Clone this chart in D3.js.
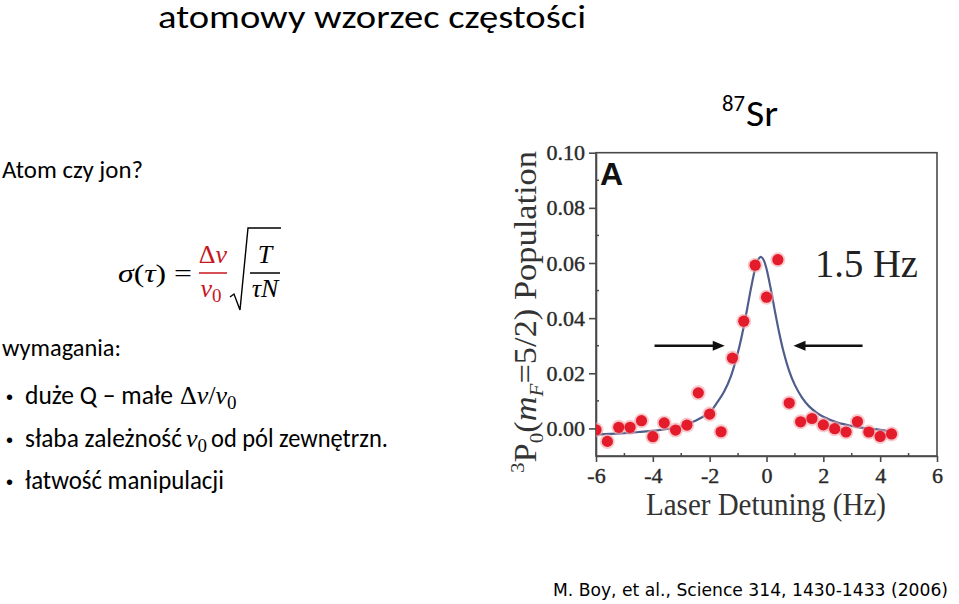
<!DOCTYPE html>
<html><head><meta charset="utf-8">
<script src="https://cdn.jsdelivr.net/npm/d3@7"></script>
<style>body{margin:0;background:#fff;overflow:hidden} svg{display:block}</style>
</head><body><svg id="c" width="959" height="604"></svg>
<script>
// ---- data ----
const detuning   = [-6,-5.6,-5.2,-4.8,-4.4,-4.0,-3.6,-3.2,-2.8,-2.4,-2.0,-1.6,-1.2,-0.8,-0.4,0,0.4,0.8,1.2,1.6,2.0,2.4,2.8,3.2,3.6,4.0,4.4];
const population = [-0.0005,-0.0047,0.0004,0.0004,0.0028,-0.0030,0.0020,-0.0006,0.0012,0.0129,0.0052,-0.0012,0.0255,0.0389,0.0592,0.0476,0.0612,0.0092,0.0024,0.0036,0.0013,-0.0001,-0.0013,0.0025,-0.0013,-0.0029,-0.0020];
const fitX = [-6,-5.5,-5,-4.5,-4,-3.5,-3,-2.5,-2,-1.75,-1.5,-1.25,-1,-0.85,-0.7,-0.55,-0.4,-0.3,-0.2,-0.1,0,0.15,0.3,0.45,0.6,0.8,1.0,1.25,1.5,1.75,2,2.5,3,3.5,4,4.4];
const fitY = [-0.0022,-0.0020,-0.0017,-0.0013,-0.0009,-0.0002,0.0008,0.0028,0.0058,0.0092,0.0132,0.0190,0.0278,0.0345,0.0423,0.0506,0.0579,0.0611,0.0622,0.0611,0.0579,0.0506,0.0423,0.0345,0.0278,0.0208,0.0157,0.0112,0.0080,0.0058,0.0042,0.0021,0.0009,0.0000,-0.0005,-0.0012];
const xTicks = [-6,-4,-2,0,2,4,6];
const xMinor = [-5,-3,-1,1,3,5];
const yTicks = [0,0.02,0.04,0.06,0.08,0.10];
const yMinor = [0.01,0.03,0.05,0.07,0.09];
const arrowFrom = [-3.94, 3.38];
const arrowTo   = [-1.47, 0.95];
const arrowY    = [0.030, 0.030];
const widthLabel = "1.5 Hz";
const panelLabel = "A";
const xTitle = "Laser Detuning (Hz)";

const svg = d3.select("#c");
const serif = "'Liberation Serif','Times New Roman',serif";
const sans = "Carlito,Calibri,Lato,sans-serif";
function fit(sel, w){ return sel.attr("textLength", w).attr("lengthAdjust","spacingAndGlyphs"); }

// ---- slide texts ----
fit(svg.append("text").attr("x",158).attr("y",28).attr("font-family",sans).attr("font-size",33).text("atomowy wzorzec częstości"),428);
const sr = svg.append("g").attr("font-family",sans).attr("fill","#000");
fit(sr.append("text").attr("x",722).attr("y",111).attr("font-size",23).text("87"),23);
fit(sr.append("text").attr("x",746).attr("y",126).attr("font-size",37).text("Sr"),32);
fit(svg.append("text").attr("x",2).attr("y",178).attr("font-family",sans).attr("font-size",25).text("Atom czy jon?"),141);
fit(svg.append("text").attr("x",2).attr("y",356).attr("font-family",sans).attr("font-size",25).text("wymagania:"),119);

// formula
const red = "#c8161e";
const f = svg.append("g").attr("font-family",serif).attr("font-size",26);
const t1 = f.append("text").attr("x",118).attr("y",282);
t1.append("tspan").attr("font-style","italic").text("σ");
t1.append("tspan").text("(");
t1.append("tspan").attr("font-style","italic").text("τ");
t1.append("tspan").text(") =");
fit(t1,74);
const num = f.append("text").attr("x",213).attr("y",263).attr("text-anchor","middle").attr("fill",red);
num.append("tspan").text("Δ"); num.append("tspan").attr("font-style","italic").text("ν");
f.append("line").attr("x1",199).attr("x2",227).attr("y1",273).attr("y2",273).attr("stroke",red).attr("stroke-width",1.5);
const den = f.append("text").attr("x",211).attr("y",297).attr("text-anchor","middle").attr("fill",red);
den.append("tspan").attr("font-style","italic").text("ν");
den.append("tspan").attr("font-size",19).attr("dy",5).text("0");
f.append("path").attr("d","M230,297 L234,294 L240,310 L248,228 L281,228").attr("fill","none").attr("stroke","#000").attr("stroke-width",1.4);
f.append("text").attr("x",265).attr("y",263).attr("text-anchor","middle").attr("font-style","italic").text("T");
f.append("line").attr("x1",250).attr("x2",280).attr("y1",273).attr("y2",273).attr("stroke","#000").attr("stroke-width",1.5);
f.append("text").attr("x",265).attr("y",297).attr("text-anchor","middle").attr("font-style","italic").text("τN");

// bullets
const b = svg.append("g").attr("font-size",26);
[404,447,489].forEach(y=>b.append("text").attr("x",6).attr("y",y).attr("font-family","Arial,'Liberation Sans',sans-serif").attr("font-size",20).text("•"));
fit(b.append("text").attr("x",25).attr("y",404).attr("font-family",sans).text("duże Q – małe"),148);
const m1 = b.append("text").attr("x",180).attr("y",404).attr("font-family",serif).attr("font-size",26);
m1.append("tspan").text("Δ"); m1.append("tspan").attr("font-style","italic").text("ν");
m1.append("tspan").text("/"); m1.append("tspan").attr("font-style","italic").text("ν");
m1.append("tspan").attr("font-size",19).attr("dy",5).text("0");
fit(b.append("text").attr("x",25).attr("y",447).attr("font-family",sans).text("słaba zależność"),157);
const m2 = b.append("text").attr("x",186).attr("y",447).attr("font-family",serif).attr("font-size",26);
m2.append("tspan").attr("font-style","italic").text("ν");
m2.append("tspan").attr("font-size",19).attr("dy",5).text("0");
fit(b.append("text").attr("x",211).attr("y",447).attr("font-family",sans).text("od pól zewnętrzn."),177);
fit(b.append("text").attr("x",25).attr("y",489).attr("font-family",sans).text("łatwość manipulacji"),199);

fit(svg.append("text").attr("x",553).attr("y",596).attr("font-family","Tahoma,'DejaVu Sans',sans-serif").attr("font-size",17.5).text("M. Boy, et al., Science 314, 1430-1433 (2006)"),395);

// ---- chart ----
const L=596, R=937, T=152.7, B=456;
const x = d3.scaleLinear().domain([-6,6]).range([L,R]);
const y = d3.scaleLinear().domain([-0.01,0.10]).range([B,T]);
const axisCol = "#4a4a4a";
const ch = svg.append("g");
svg.append("defs").append("clipPath").attr("id","pc").append("rect").attr("x",L).attr("y",T).attr("width",R-L).attr("height",B-T);

ch.append("rect").attr("x",L).attr("y",T).attr("width",R-L).attr("height",B-T).attr("fill","none").attr("stroke",axisCol).attr("stroke-width",1.6);

const xa = ch.append("g").attr("transform",`translate(0,${B})`)
  .call(d3.axisBottom(x).tickValues(xTicks).tickSize(6).tickSizeOuter(0).tickFormat(d=>String(d)));
const ya = ch.append("g").attr("transform",`translate(${L},0)`)
  .call(d3.axisLeft(y).tickValues(yTicks).tickSize(7).tickSizeOuter(0).tickFormat(d3.format(".2f")));
[xa,ya].forEach(a=>{
  a.select(".domain").attr("stroke",axisCol).attr("stroke-width",1.6);
  a.selectAll(".tick line").attr("stroke",axisCol).attr("stroke-width",1.6);
  a.selectAll(".tick text").attr("font-family",serif).attr("font-size",22).attr("fill","#2a2a2a")
    .attr("stroke","#2a2a2a").attr("stroke-width",0.4);
});
xa.selectAll(".tick text").attr("dy","0.82em");
ya.selectAll(".tick text").attr("dx","-0.05em");
ch.append("g").selectAll("line").data(xMinor).join("line")
  .attr("x1",d=>x(d)).attr("x2",d=>x(d)).attr("y1",B).attr("y2",B-3).attr("stroke",axisCol).attr("stroke-width",1.5);
ch.append("g").selectAll("line").data(yMinor).join("line")
  .attr("y1",d=>y(d)).attr("y2",d=>y(d)).attr("x1",L).attr("x2",L+3).attr("stroke",axisCol).attr("stroke-width",1.5);

// fit curve
const line = d3.line().x((d,i)=>x(fitX[i])).y(d=>y(d)).curve(d3.curveCatmullRom);
ch.append("path").datum(fitY).attr("d",line).attr("fill","none").attr("stroke","#4f5d8c").attr("stroke-width",2.2);

// points
const pts = ch.append("g").attr("clip-path","url(#pc)");
pts.selectAll("circle.h").data(population).join("circle").attr("class","h")
  .attr("cx",(d,i)=>x(detuning[i])).attr("cy",d=>y(d)).attr("r",7.5).attr("fill","#f3a6ab").attr("opacity",0.6);
pts.selectAll("circle.p").data(population).join("circle").attr("class","p")
  .attr("cx",(d,i)=>x(detuning[i])).attr("cy",d=>y(d)).attr("r",5.6).attr("fill","#e41b2a");

// arrows
const ar = ch.append("g");
arrowFrom.forEach((a,i)=>{
  const x0=x(a), x1=x(arrowTo[i]), yy=y(arrowY[i]), dir = x1>x0?1:-1;
  ar.append("line").attr("x1",x0).attr("x2",x1-dir*9).attr("y1",yy).attr("y2",yy).attr("stroke","#111").attr("stroke-width",2.4);
  ar.append("path").attr("d",`M${x1},${yy} L${x1-dir*12},${yy-5} L${x1-dir*12},${yy+5} Z`).attr("fill","#111");
});

// labels
ch.append("text").attr("x",600).attr("y",185).attr("font-family","'Liberation Sans',Arial,sans-serif").attr("font-weight","bold").attr("font-size",32).attr("fill","#111").text(panelLabel);
fit(ch.append("text").attr("x",815).attr("y",277).attr("font-family",serif).attr("font-size",40).attr("fill","#222").text(widthLabel),103);
fit(ch.append("text").attr("x",766).attr("y",515).attr("text-anchor","middle").attr("font-family",serif).attr("font-size",31).attr("fill","#333").text(xTitle),240);

const yl = ch.append("text").attr("transform","translate(536,312) rotate(-90)").attr("text-anchor","middle")
  .attr("font-family",serif).attr("font-size",31).attr("fill","#333");
yl.append("tspan").attr("font-size",19).attr("dy",-12).text("3");
yl.append("tspan").attr("dy",12).text("P");
yl.append("tspan").attr("font-size",19).attr("dy",7).text("0");
yl.append("tspan").attr("dy",-7).text("(");
yl.append("tspan").attr("font-style","italic").text("m");
yl.append("tspan").attr("font-style","italic").attr("font-size",19).attr("dy",7).text("F");
yl.append("tspan").attr("dy",-7).text("=5/2) Population");
fit(yl,322);
</script></body></html>
